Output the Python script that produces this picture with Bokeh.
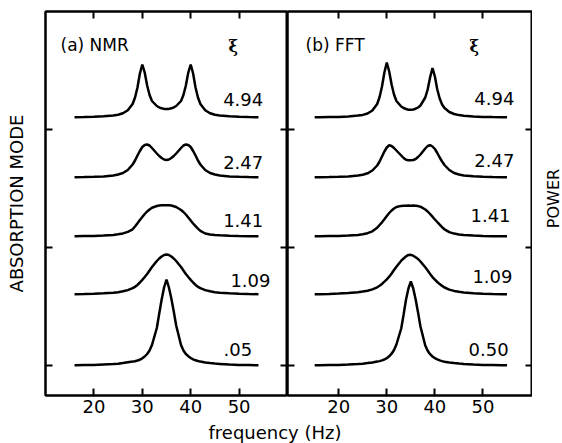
import numpy as np
from bokeh.plotting import figure
from bokeh.models import Range1d, LinearAxis, FixedTicker, ColumnDataSource, Label
from bokeh.layouts import row, column
from bokeh.core.properties import value
from bokeh.embed import file_html
from bokeh.resources import INLINE

FONT = "DejaVu Sans"

# ---------------- data ----------------
# frequency grid (Hz) of the NMR absorption spectra, panel (a)
nmr_hz = [16, 18, 20, 22, 24, 25, 26, 27, 28, 28.5, 29, 29.5, 30, 30.5, 31, 31.5, 32,
          33, 33.5, 34, 34.5, 35, 35.5, 36, 36.5, 37, 38, 38.5, 39, 39.5, 40, 40.5,
          41, 41.5, 42, 43, 44, 45, 46, 48, 50, 52, 54]
nmr_494 = [0.2, 0.4, 0.7, 1.2, 2.0, 2.7, 4.2, 7.2, 13.5, 20, 30, 44, 53, 45, 32, 22.5, 16.5,
           11.5, 10.2, 9.2, 8.6, 8.4, 8.6, 9.2, 10.2, 11.5, 16.5, 22.5, 32, 45, 53, 44,
           30, 20, 13.5, 7.2, 4.2, 2.7, 2.0, 1.2, 0.7, 0.4, 0.2]
nmr_247 = [0.2, 0.4, 0.7, 1.1, 2.0, 3.0, 4.5, 7.5, 13, 17, 22, 26.5, 30.5, 32.5, 33, 32, 29.5,
           24, 21.5, 19.5, 18, 17.5, 18, 19.5, 21.5, 24, 29.5, 32, 33, 32.5, 30.5, 26.5,
           22, 17, 13, 7.5, 4.5, 3.0, 2.0, 1.1, 0.7, 0.4, 0.2]
nmr_141 = [0.2, 0.4, 0.6, 1.0, 1.6, 2.2, 3.1, 4.6, 7.2, 10, 13.2, 16.5, 19.5, 22.5, 25, 27, 28.8,
           30.5, 31, 31.2, 31.3, 31.3, 31.2, 31, 30.3, 29.5, 26.5, 24.5, 22, 19, 16, 13,
           10.3, 7.8, 5.6, 3.0, 2.0, 1.5, 1.2, 0.8, 0.5, 0.3, 0.2]
nmr_109 = [0.3, 0.5, 0.8, 1.2, 1.8, 2.3, 3.2, 4.4, 6.3, 7.7, 9.6, 12, 14.6, 17.5, 20.5, 24, 27.5,
           33.5, 36, 38, 39.5, 40, 39.5, 38, 36, 33.5, 27.5, 24, 20.5, 17.5, 14.6, 12,
           9.6, 7.7, 6.3, 4.4, 3.2, 2.3, 1.8, 1.2, 0.8, 0.5, 0.3]
nmr_005 = [0.2, 0.4, 0.6, 1.0, 1.4, 1.8, 2.4, 3.2, 3.9, 4.3, 5.0, 5.8, 7.2, 9.0, 11.5, 15, 20.5,
           37.5, 52, 66, 78, 86, 78, 67, 54, 40, 20.5, 15, 11.5, 9.3, 7.5, 6.2,
           5.2, 4.5, 3.9, 3.0, 2.4, 1.9, 1.6, 1.0, 0.6, 0.4, 0.2]

# frequency grid (Hz) of the FFT power spectra, panel (b)
fft_hz = [15, 16, 18, 20, 22, 24, 25, 26, 27, 28, 28.5, 29, 29.5, 30, 30.5, 31, 31.5, 32,
          33, 33.5, 34, 34.5, 35, 35.5, 36, 36.5, 37, 38, 38.5, 39, 39.5, 40, 40.5,
          41, 41.5, 42, 43, 44, 45, 46, 48, 50, 52, 54, 55]
fft_494 = [0.2, 0.2, 0.4, 0.6, 1.1, 1.9, 2.6, 4.0, 7.0, 13.5, 20.5, 31, 45, 55, 46, 33, 23, 16.5,
           11, 9.5, 8.5, 7.8, 7.7, 8.0, 8.8, 10, 12, 20, 28, 40, 49.5, 41, 28,
           19, 13, 9.5, 5.5, 3.5, 2.4, 1.8, 1.0, 0.6, 0.4, 0.3, 0.2]
fft_247 = [0.2, 0.2, 0.4, 0.7, 1.1, 2.0, 2.8, 4.2, 7.0, 12, 16, 21, 26, 30, 32.3, 31.5, 29.5, 27,
           22, 19.5, 17.8, 17.3, 17.3, 17.5, 18.5, 20.5, 23, 29, 31.5, 32.3, 31, 28.5, 24.5,
           20, 16, 12.5, 7.5, 4.5, 3.0, 2.1, 1.2, 0.7, 0.4, 0.3, 0.2]
fft_141 = [0.2, 0.2, 0.4, 0.6, 1.0, 1.6, 2.2, 3.3, 5.2, 8.8, 11.5, 14.2, 17.2, 20.5, 23.5, 26, 28, 29.5,
           30.6, 30.8, 30.7, 31, 30.8, 30.9, 30.7, 30.4, 29.8, 27, 25, 22.5, 19.8, 17, 14.5,
           11.8, 9.3, 7.2, 4.4, 2.9, 2.0, 1.5, 0.9, 0.5, 0.3, 0.2, 0.2]
fft_109 = [0.3, 0.3, 0.5, 0.9, 1.4, 2.2, 2.9, 3.8, 5.1, 7.2, 8.7, 10.6, 12.8, 15.2, 17.8, 21, 24.5, 27.8,
           33.8, 36, 38.2, 39.6, 39.7, 38.8, 37.2, 35.5, 33, 27.2, 24, 20.6, 17.4, 14.8, 12.5,
           10.4, 8.6, 7.0, 4.9, 3.6, 2.7, 2.1, 1.3, 0.8, 0.5, 0.3, 0.3]
fft_050 = [0.2, 0.2, 0.4, 0.6, 0.9, 1.4, 1.8, 2.4, 3.1, 3.9, 4.4, 5.1, 6.0, 7.3, 9.2, 11.8, 15.5, 21,
           37, 51, 66, 77, 84, 77, 66, 53, 39, 20, 14.8, 11.3, 9.0, 7.4, 6.1,
           5.1, 4.4, 3.8, 3.0, 2.4, 1.9, 1.5, 1.0, 0.6, 0.4, 0.2, 0.2]

# vertical offsets of the stacked spectra (top to bottom)
offsets = [248, 188, 129, 71, 0]
nmr_xi = ["4.94", "2.47", "1.41", "1.09", ".05"]
fft_xi = ["4.94", "2.47", "1.41", "1.09", "0.50"]
x_ticks = [20, 30, 40, 50]
y_ticks = [0, 118, 236]

nmr_curves = [nmr_494, nmr_247, nmr_141, nmr_109, nmr_005]
fft_curves = [fft_494, fft_247, fft_141, fft_109, fft_050]
for c in nmr_curves:
    assert len(c) == len(nmr_hz), len(c)
for c in fft_curves:
    assert len(c) == len(fft_hz), len(c)

# ---------------- layout / style ----------------
PANEL_H = 423
Y0, Y1 = -30, 354


def style_axis(ax, ticks, labels):
    ax.ticker = FixedTicker(ticks=ticks, minor_ticks=[])
    ax.major_tick_in = 7
    ax.major_tick_out = 0
    ax.minor_tick_in = 0
    ax.minor_tick_out = 0
    ax.axis_line_width = 2
    ax.axis_line_color = "black"
    ax.major_tick_line_width = 2
    ax.major_tick_line_color = "black"
    if labels:
        ax.major_label_text_font = FONT
        ax.major_label_text_font_size = "18px"
        ax.major_label_text_color = "black"
        ax.major_label_standoff = 4
    else:
        ax.major_label_text_font_size = "0px"
        ax.major_label_text_color = None
        ax.major_label_standoff = 0


def make_panel(width, bl, br, xr):
    p = figure(width=width, height=PANEL_H, x_range=Range1d(*xr), y_range=Range1d(Y0, Y1),
               output_backend="svg", toolbar_location=None,
               min_border_left=bl, min_border_right=br, min_border_top=11, min_border_bottom=28)
    p.xgrid.visible = False
    p.ygrid.visible = False
    p.outline_line_color = "black"
    p.outline_line_width = 2
    p.background_fill_color = "white"
    p.border_fill_color = "white"
    style_axis(p.xaxis[0], x_ticks, True)
    style_axis(p.yaxis[0], y_ticks, False)
    top = LinearAxis()
    style_axis(top, x_ticks, False)
    p.add_layout(top, "above")
    right = LinearAxis()
    style_axis(right, y_ticks, False)
    p.add_layout(right, "right")
    return p


p1 = make_panel(287, 45, 0, (10, 60))
p2 = make_panel(245, 0, 0, (9.35, 60.3))

ya = p1.yaxis[0]
ya.axis_label = "ABSORPTION MODE"
ya.axis_label_text_font = FONT
ya.axis_label_text_font_size = "18px"
ya.axis_label_text_font_style = "normal"
ya.axis_label_text_color = "black"
ya.axis_label_standoff = 19

for p, hz, curves in ((p1, nmr_hz, nmr_curves), (p2, fft_hz, fft_curves)):
    for vals, off in zip(curves, offsets):
        src = ColumnDataSource(dict(x=hz, y=np.asarray(vals, dtype=float) + off))
        p.line("x", "y", source=src, line_width=2.5, line_color="black")

# value labels
nmr_lx = [46.7, 46.7, 46.7, 48.2, 46.8]
nmr_ly = [266.5, 203.5, 145, 85.5, 16]
fft_lx = [48.2, 48.2, 47.4, 47.8, 47.0]
fft_ly = [267, 205, 150, 89, 16.5]
for p, lx, ly, txt in ((p1, nmr_lx, nmr_ly, nmr_xi), (p2, fft_lx, fft_ly, fft_xi)):
    p.text(x=lx, y=ly, text=txt, text_font=value(FONT), text_font_size=value("18px"),
           text_baseline="middle", text_align="left", text_color="black")

p1.add_layout(Label(x=13.1, y=321, text="(a)  NMR", text_font=FONT, text_font_size="17px",
                    text_baseline="middle", text_align="left", text_color="black"))
p2.add_layout(Label(x=13.1, y=320.5, text="(b)  FFT", text_font=FONT, text_font_size="17px",
                    text_baseline="middle", text_align="left", text_color="black"))
p1.add_layout(Label(x=48.8, y=319, text="ξ", text_font="DejaVu Serif", text_font_size="16px",
                    text_font_style="bold", text_baseline="middle", text_align="center",
                    text_color="black"))
p2.add_layout(Label(x=48.2, y=319, text="ξ", text_font="DejaVu Serif", text_font_size="16px",
                    text_font_style="bold", text_baseline="middle", text_align="center",
                    text_color="black"))

# right-hand axis title in its own narrow strip
p4 = figure(width=30, height=PANEL_H, x_range=Range1d(0, 30), y_range=Range1d(0, PANEL_H),
            output_backend="svg", toolbar_location=None, x_axis_location=None,
            y_axis_location=None, min_border=0)
p4.xgrid.visible = False
p4.ygrid.visible = False
p4.outline_line_color = None
p4.add_layout(Label(x=21, y=217, text="POWER", angle=np.pi / 2, text_font=FONT,
                    text_font_size="16px", text_baseline="middle", text_align="center",
                    text_color="black"))

# shared x-axis title below both panels
p3 = figure(width=562, height=20, x_range=Range1d(0, 562), y_range=Range1d(0, 20),
            output_backend="svg", toolbar_location=None, x_axis_location=None,
            y_axis_location=None, min_border=0)
p3.xgrid.visible = False
p3.ygrid.visible = False
p3.outline_line_color = None
p3.add_layout(Label(x=274.5, y=11, text="frequency (Hz)", text_font=FONT, text_font_size="18px",
                    text_baseline="middle", text_align="center", text_color="black"))

layout = column(row(p1, p2, p4), p3)
open("out.html", "w").write(file_html(layout, INLINE))
